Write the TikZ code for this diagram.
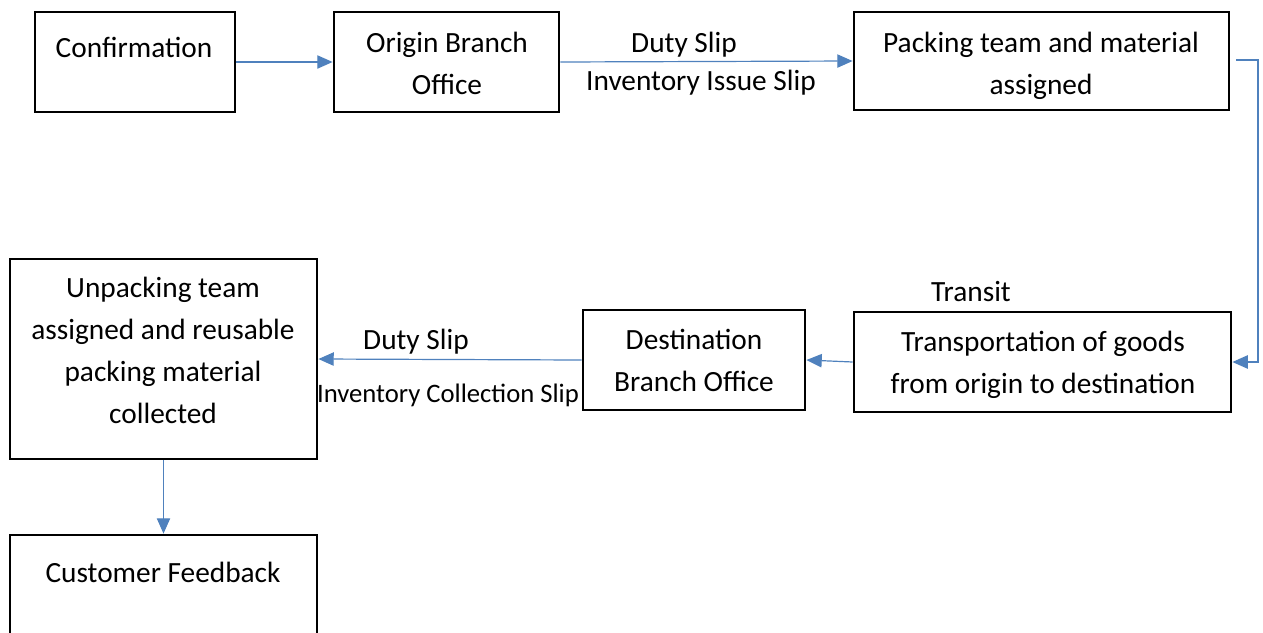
\documentclass[tikz,border=0pt]{standalone}
\usepackage{fontspec}
\setmainfont{Carlito}
\usetikzlibrary{arrows.meta}
\definecolor{lineblue}{RGB}{79,129,189}
\begin{document}
\begin{tikzpicture}[x=0.75pt,y=-0.75pt,
  box/.style={draw=black, line width=2.1pt, inner sep=0pt, fill=none},
  txt/.style={align=center, font=\fontsize{22}{31.5}\selectfont, inner sep=0pt, anchor=base},
  smalltxt/.style={txt, font=\fontsize{20}{31.5}\selectfont},
  conn/.style={draw=lineblue, line width=0.9pt, -{Triangle[length=11.5pt,width=10pt]}},
]
\useasboundingbox (0,0) rectangle (1263,632);
% boxes
\node[box, minimum width=150pt, minimum height=75pt] (conf) at (135,62) {};
\node[box, minimum width=168.75pt, minimum height=75pt] (origin) at (446.5,62) {};
\node[box, minimum width=281.25pt, minimum height=73.5pt] (pack) at (1041.5,61) {};
\node[box, minimum width=282.75pt, minimum height=75pt] (trans) at (1042.5,362) {};
\node[box, minimum width=166.5pt, minimum height=75pt] (dest) at (694,360) {};
\node[box, minimum width=230.25pt, minimum height=150pt] (unpack) at (163.5,359) {};
\node[box, minimum width=230.25pt, minimum height=93.75pt] (cust) at (163.5,597.5) {};
% box texts (anchor = baseline of last line)
\node[txt] (tconf) at (134,57) {Confirmation};
\node[txt] (torigin) at (447,94) {Origin Branch\\Office};
\node[txt] (tpack) at (1041,94) {Packing team and material\\assigned};
\node[txt] (ttrans) at (1043,393) {Transportation of goods\\from origin to destination};
\node[txt] (tdest) at (694,391) {Destination\\Branch Office};
\node[txt] (tunpack) at (163,423) {Unpacking team\\assigned and reusable\\packing material\\collected};
\node[txt] (tcust) at (163,582) {Customer Feedback};
% connector labels
\node[txt] (l1) at (684,52) {Duty Slip};
\node[txt] (l2) at (701,90) {Inventory Issue Slip};
\node[txt] (l3) at (971,301) {Transit};
\node[txt] (l4) at (416,349) {Duty Slip};
\node[smalltxt] (l5) at (448,402) {Inventory Collection Slip};
% connectors
\coordinate (r1) at (1236,60);
\coordinate (r2) at (1258,60);
\coordinate (r3) at (1258,362);
\draw[conn] (conf.east) -- (origin.west);
\draw[conn] (origin.east) -- (pack.west);
\draw[conn] (r1) -- (r2) -- (r3) -- (trans.east);
\draw[conn] (trans.west) -- (dest.east);
\draw[conn] (dest.west) -- (unpack.east);
\draw[conn] (unpack.south) -- (cust.north);
\end{tikzpicture}
\end{document}
